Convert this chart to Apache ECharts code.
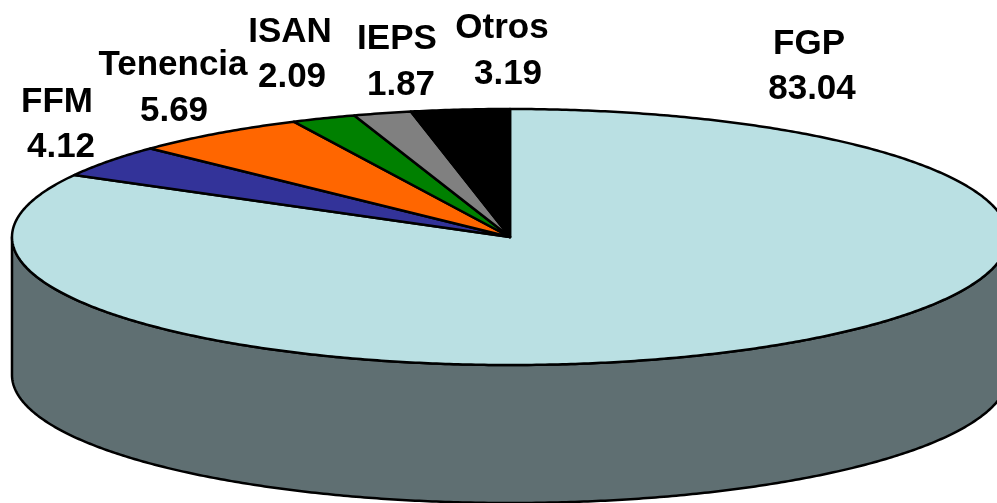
<!DOCTYPE html>
<html>
<head>
<meta charset="utf-8">
<style>html,body{margin:0;padding:0;background:#fff}#c{width:997px;height:503px}</style>
<script src="https://cdn.jsdelivr.net/npm/echarts@6/dist/echarts.min.js"></script>
</head>
<body>
<div id="c"></div>
<script>
// Data, in clockwise order from 12 o'clock
const categories = ['FGP', 'FFM', 'Tenencia', 'ISAN', 'IEPS', 'Otros'];
const values = [83.04, 4.12, 5.69, 2.09, 1.87, 3.19];
const valueLabels = ['83.04', '4.12', '5.69', '2.09', '1.87', '3.19'];

// Styles
const topColors = ['#BAE0E3', '#333399', '#FF6600', '#008000', '#808080', '#000000'];
const sideColors = ['#5F6F72', '#1A1A4D', '#803300', '#004000', '#404040', '#000000'];

// Layout of the tilted pie
const CX = 510, CY = 237, RX = 498, RY = 128, DEPTH = 138;
// [name x, name mid-y, value x, value mid-y]
const labelPos = [
  [809, 44, 812, 89],
  [57, 102, 61, 147],
  [173, 65, 174, 111],
  [290, 32, 292, 77],
  [397, 39, 401, 85],
  [502, 28, 508, 74]
];

const total = values.reduce((a, b) => a + b, 0);
const pt = (deg, dy) => {
  const r = deg * Math.PI / 180;
  return [CX + RX * Math.sin(r), CY + (dy || 0) - RY * Math.cos(r)];
};
const arc = (a, b, dy) => {
  const pts = [], n = Math.max(2, Math.ceil(Math.abs(b - a) * 2));
  for (let k = 0; k <= n; k++) pts.push(pt(a + (b - a) * k / n, dy));
  return pts;
};

function renderItem(params, api) {
  const i = api.value(0);
  let before = 0;
  for (let k = 0; k < i; k++) before += values[k];
  const a0 = before / total * 360;
  const a1 = (before + api.value(1)) / total * 360;
  const children = [];
  const line = { stroke: '#000', lineWidth: 2.5, lineJoin: 'round' };
  // visible outer wall: the part of the slice on the front half of the ellipse
  const f0 = Math.max(a0, 90), f1 = Math.min(a1, 270);
  if (f1 > f0) {
    children.push({
      type: 'polygon',
      shape: { points: arc(f0, f1, 0).concat(arc(f1, f0, DEPTH)) },
      style: Object.assign({ fill: sideColors[i] }, line)
    });
  }
  children.push({
    type: 'polygon',
    shape: { points: [[CX, CY]].concat(arc(a0, a1, 0)) },
    style: Object.assign({ fill: topColors[i] }, line)
  });
  const p = labelPos[i];
  const font = 'bold 35px "Liberation Sans", Arial, sans-serif';
  children.push({ type: 'text', style: { text: categories[i], x: p[0], y: p[1], font, fill: '#000', align: 'center', verticalAlign: 'middle' } });
  children.push({ type: 'text', style: { text: valueLabels[i], x: p[2], y: p[3], font, fill: '#000', align: 'center', verticalAlign: 'middle' } });
  return { type: 'group', children };
}

const chart = echarts.init(document.getElementById('c'), null, { renderer: 'canvas' });
chart.setOption({
  backgroundColor: '#fff',
  animation: false,
  series: [{
    type: 'custom',
    coordinateSystem: 'none',
    renderItem,
    clip: false,
    silent: true,
    encode: { value: 1 },
    data: categories.map((c, i) => [i, values[i]])
  }]
});
</script>
</body>
</html>
